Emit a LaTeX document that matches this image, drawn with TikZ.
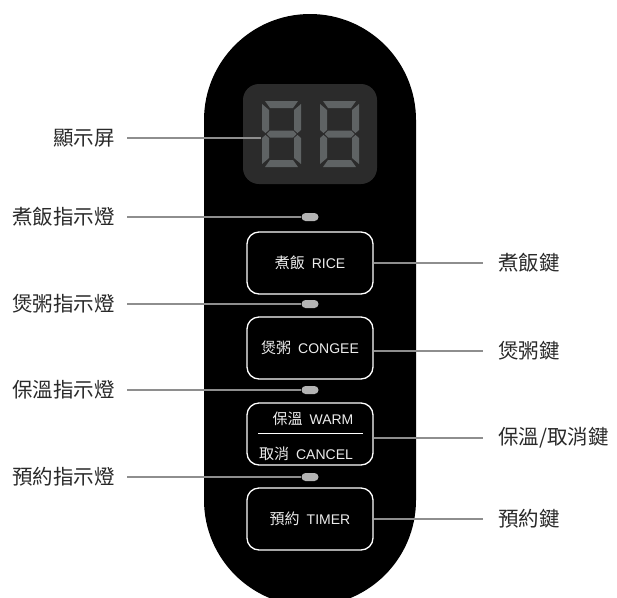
\documentclass[tikz,border=0pt]{standalone}
\usepackage{fontspec}
\setmainfont{Noto Sans CJK TC}
\newfontfamily\latinf{Liberation Sans}
\begin{document}
\begin{tikzpicture}[x=1pt,y=-1pt,
  conn/.style={draw=lineg,line width=2pt},
  lbl/.style={text=labelc,font=\fontsize{20.5}{24}\selectfont,inner sep=0pt},
  btn/.style={draw=white,fill=black,line width=1.3pt,rounded corners=12pt,minimum width=126pt,minimum height=62pt,text=btntext,font=\fontsize{15}{17}\selectfont,inner sep=0pt},
  btxt/.style={text=btntext,font=\fontsize{15}{17}\selectfont,inner sep=0pt},
  pill/.style={fill=pillc,rounded corners=4pt,minimum width=17pt,minimum height=8pt,inner sep=0pt},
  seg/.style={fill=segc}]
\definecolor{lineg}{HTML}{8E8E8E}
\definecolor{labelc}{HTML}{2A2A2A}
\definecolor{btntext}{HTML}{EDEDED}
\definecolor{pillc}{HTML}{B4B4B4}
\definecolor{segc}{HTML}{5F6364}
\definecolor{dispc}{HTML}{2B2B2B}
\newcommand\lat[1]{{\latinf\fontsize{14}{17}\selectfont #1}}
\useasboundingbox (0,0) rectangle (617,597);
\clip (0,0) rectangle (617,597);
\fill[white] (0,0) rectangle (617,597);
% body
\fill[black,rounded corners=106pt] (204,14) rectangle (416,606);
% display
\node[fill=dispc,rounded corners=16pt,minimum width=134pt,minimum height=100pt,inner sep=0pt] (disp) at (310,134) {};
\foreach \X in {262,320}{
\begin{scope}[shift={(\X,101)}]
\fill[seg] (3,0)--(36,0)--(31,7)--(8,7)--cycle;
\fill[seg] (0,3)--(7,9)--(7,29)--(3.5,32)--(0,29)--cycle;
\fill[seg] (39,3)--(32,9)--(32,29)--(35.5,32)--(39,29)--cycle;
\fill[seg] (4.5,33)--(8,29.5)--(31,29.5)--(34.5,33)--(31,36.5)--(8,36.5)--cycle;
\fill[seg] (0,37)--(3.5,34)--(7,37)--(7,57)--(0,63)--cycle;
\fill[seg] (39,37)--(35.5,34)--(32,37)--(32,57)--(39,63)--cycle;
\fill[seg] (3,66)--(8,59)--(31,59)--(36,66)--cycle;
\end{scope}}
\coordinate (digL) at (261,138);
% indicators
\node[pill] (p1) at (310,217) {};
\node[pill] (p2) at (310,304) {};
\node[pill] (p3) at (310,390) {};
\node[pill] (p4) at (310,477) {};
% buttons
\node[btn] (bRice) at (310,263) {煮飯\hspace{7pt}\lat{RICE}};
\node[btn] (bCongee) at (310,348) {煲粥\hspace{7pt}\lat{CONGEE}};
\node[btn] (bWarm) at (310,434) {};
\node[btxt] (tWarm) at (313,419) {保溫\hspace{7pt}\lat{WARM}};
\node[btxt] (tCancel) at (306,454) {取消\hspace{7pt}\lat{CANCEL}};
\draw[white,line width=1pt] (258,433) -- (363,433);
\node[btn] (bTimer) at (310,519) {預約\hspace{7pt}\lat{TIMER}};
% left labels
\node[lbl,anchor=east] (lDisp) at (115,138) {顯示屏};
\node[lbl,anchor=east] (lRice) at (115,217) {煮飯指示燈};
\node[lbl,anchor=east] (lCongee) at (115,304) {煲粥指示燈};
\node[lbl,anchor=east] (lWarm) at (115,390) {保溫指示燈};
\node[lbl,anchor=east] (lTimer) at (115,477) {預約指示燈};
\draw[conn] ([xshift=12pt]lDisp.east) -- (digL);
\draw[conn] ([xshift=12pt]lRice.east) -- (p1.west);
\draw[conn] ([xshift=12pt]lCongee.east) -- (p2.west);
\draw[conn] ([xshift=12pt]lWarm.east) -- (p3.west);
\draw[conn] ([xshift=12pt]lTimer.east) -- (p4.west);
% right labels
\node[lbl,anchor=west] (rRice) at (498,263) {煮飯鍵};
\node[lbl,anchor=west] (rCongee) at (498,351) {煲粥鍵};
\node[lbl,anchor=west] (rWarm) at (498,438) {保溫/取消鍵};
\node[lbl,anchor=west] (rTimer) at (498,519) {預約鍵};
\draw[conn] (bRice.east |- rRice.west) -- ([xshift=-15pt]rRice.west);
\draw[conn] (bCongee.east |- rCongee.west) -- ([xshift=-15pt]rCongee.west);
\draw[conn] (bWarm.east |- rWarm.west) -- ([xshift=-15pt]rWarm.west);
\draw[conn] (bTimer.east |- rTimer.west) -- ([xshift=-15pt]rTimer.west);
\end{tikzpicture}
\end{document}
